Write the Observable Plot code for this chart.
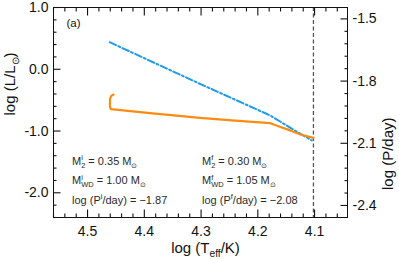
<!DOCTYPE html>
<html><head><meta charset="utf-8">
<script src="https://cdn.jsdelivr.net/npm/d3@7"></script>
<script src="https://cdn.jsdelivr.net/npm/@observablehq/plot@0.6"></script>
<style>body{margin:0;background:#fff;}</style>
</head><body><div id="chart"></div>
<script>
// ---- data ----
const orangeTeff = [4.454, 4.458, 4.4605, 4.4605, 4.459, 4.39, 4.302, 4.24, 4.178, 4.160, 4.143, 4.125, 4.102];
const orangeLogL = [-0.41, -0.43, -0.48, -0.60, -0.645, -0.71, -0.786, -0.83, -0.873, -0.935, -0.99, -1.056, -1.11];
const blueTeff = [4.461, 4.302, 4.178, 4.135, 4.105];
const blueLogL = [0.438, -0.236, -0.749, -0.99, -1.153];
const limitTeff = [4.102];
const xMajorTicks = [4.5, 4.4, 4.3, 4.2, 4.1];
const yMajorTicks = [1.0, 0.0, -1.0, -2.0];
const pMajorTicks = [-1.5, -1.8, -2.1, -2.4];
const xDomain = [4.56, 4.042];
const yDomain = [-2.4, 1.0];
const pDomain = [-2.458, -1.445];
const annotLeft = ["M_{2}^{i} = 0.35 M_{⊙}", "M^{i}_{WD} = 1.00 M_{⊙}", "log (P^{i}/day) = −1.87"];
const annotRight = ["M_{2}^{f} = 0.30 M_{⊙}", "M^{f}_{WD} = 1.05 M_{⊙}", "log (P^{f}/day) = −2.08"];
const panelLabel = ["(a)"];
const xTitle = ["log (T_{eff}/K)"];
const yTitle = ["log (L/L_{⊙})"];
const pTitle = ["log (P/day)"];

// ---- layout ----
const W = 399, H = 259, ML = 53, MR = 52, MT = 7, MB = 42;

// ---- derived ----
const orange = orangeTeff.map((t, i) => ({t, l: orangeLogL[i]}));
const blue = blueTeff.map((t, i) => ({t, l: blueLogL[i]}));
const kP = (yDomain[1] - yDomain[0]) / (pDomain[1] - pDomain[0]);
const pToL = p => yDomain[1] + (p - pDomain[1]) * kP;
const lToP = l => pDomain[1] + (l - yDomain[1]) / kP;
const inX = v => v <= Math.max(...xDomain) + 1e-9 && v >= Math.min(...xDomain) - 1e-9;
const xMinorTicks = d3.range(202, 229).filter(i => i % 5 !== 0).map(i => i / 50).filter(inX);
const yMinorTicks = d3.range(-12, 6).filter(i => i % 5 !== 0).map(i => i / 5);
const pMinorTicks = d3.range(-41, -23).filter(i => i % 5 !== 0).map(i => i * 0.06)
  .filter(p => p >= pDomain[0] - 1e-9 && p <= pDomain[1] + 1e-9);

const txt = "#111";
const MAJ = 7.5, MIN = 3.5;
const none = () => "";
// inward ticks: outward axis ticks shifted back inside the frame
function ticksX(values, side, len) {
  return Plot.axisX(values, {anchor: side, tickSize: len, dy: side === "bottom" ? -len : len,
    tickFormat: none, label: null, strokeWidth: 1.1});
}
function ticksY(values, side, len) {
  return Plot.axisY(values, {anchor: side, tickSize: len, dx: side === "left" ? len : -len,
    tickFormat: none, label: null, strokeWidth: 1.1});
}
const annotMarks = [];
annotLeft.forEach((s, i) => annotMarks.push(Plot.text([s], {frameAnchor: "top-left", dx: 18.5, dy: 157.3 + i * 19.5, textAnchor: "start", lineAnchor: "bottom", fontSize: 11, fill: "#2a2a2a"})));
annotRight.forEach((s, i) => annotMarks.push(Plot.text([s], {frameAnchor: "top-left", dx: 148.5, dy: 157.3 + i * 19.5, textAnchor: "start", lineAnchor: "bottom", fontSize: 11, fill: "#2a2a2a"})));

const chart = Plot.plot({
  width: W, height: H,
  marginLeft: ML, marginRight: MR, marginTop: MT, marginBottom: MB,
  x: {domain: xDomain},
  y: {domain: yDomain},
  style: {fontFamily: "'Liberation Sans', Arial, sans-serif", fontSize: "14px", color: txt, background: "#fff"},
  marks: [
    Plot.ruleX(limitTeff, {stroke: "#555", strokeWidth: 1.3, strokeDasharray: "4,2.5"}),
    Plot.line(blue, {x: "t", y: "l", stroke: "#1f9bea", strokeWidth: 2, strokeDasharray: "7,2.5,2,2.5"}),
    Plot.line(orange, {x: "t", y: "l", stroke: "#fb8c12", strokeWidth: 2.2, strokeLinejoin: "round"}),
    Plot.frame({stroke: "currentColor", strokeWidth: 1}),
    // tick marks (inward)
    ticksX(xMajorTicks, "bottom", MAJ), ticksX(xMinorTicks, "bottom", MIN),
    ticksX(xMajorTicks, "top", MAJ), ticksX(xMinorTicks, "top", MIN),
    ticksY(yMajorTicks, "left", MAJ), ticksY(yMinorTicks, "left", MIN),
    ticksY(pMajorTicks.map(pToL), "right", MAJ), ticksY(pMinorTicks.map(pToL), "right", MIN),
    // tick labels
    Plot.axisX(xMajorTicks, {anchor: "bottom", tickSize: 0, tickPadding: 9, tickFormat: d => d.toFixed(1), label: null, fontSize: 14}),
    Plot.axisY(yMajorTicks, {anchor: "left", tickSize: 0, tickPadding: 5, tickFormat: d => d.toFixed(1), label: null, fontSize: 14}),
    Plot.axisY(pMajorTicks.map(pToL), {anchor: "right", tickSize: 0, tickPadding: 5, tickFormat: d => lToP(d).toFixed(1), label: null, fontSize: 14}),
    // titles
    Plot.text(xTitle, {frameAnchor: "bottom", dx: 5, dy: 35, lineAnchor: "bottom", fontSize: 15, fill: txt}),
    Plot.text(yTitle, {frameAnchor: "left", rotate: -90, dx: -39, dy: 3, lineAnchor: "bottom", fontSize: 15, fill: txt}),
    Plot.text(pTitle, {frameAnchor: "right", rotate: -90, dx: 45, dy: 5, lineAnchor: "bottom", fontSize: 15, fill: txt}),
    Plot.text(panelLabel, {frameAnchor: "top-left", dx: 13, dy: 19.7, textAnchor: "start", lineAnchor: "bottom", fontSize: 11.5, fill: txt}),
    ...annotMarks
  ]
});
document.getElementById("chart").appendChild(chart);

// ---- rich text (sub/superscripts) ----
function richify(el) {
  const src = el.textContent;
  if (!/[_^]\{/.test(src)) return;
  const base = parseFloat(getComputedStyle(el).fontSize) || 11;
  const segs = [];
  const re = /([_^])\{([^}]*)\}/g;
  let last = 0, m;
  while ((m = re.exec(src))) {
    if (m.index > last) segs.push({t: "n", s: src.slice(last, m.index)});
    segs.push({t: m[1] === "_" ? "sub" : "sup", s: m[2]});
    last = re.lastIndex;
  }
  if (last < src.length) segs.push({t: "n", s: src.slice(last)});
  el.textContent = "";
  const NS = "http://www.w3.org/2000/svg";
  let cur = 0, prev = null, pending = 0;
  for (const seg of segs) {
    const ts = document.createElementNS(NS, "tspan");
    ts.textContent = seg.s;
    const target = seg.t === "sub" ? base * 0.27 : seg.t === "sup" ? -base * 0.4 : 0;
    if (target - cur) ts.setAttribute("dy", (target - cur).toFixed(2));
    cur = target;
    if (seg.t !== "n") ts.setAttribute("font-size", (base * 0.68).toFixed(2));
    let dx = pending; pending = 0;
    const stacked = seg.t !== "n" && prev && prev.t !== "n" && prev.t !== seg.t;
    if (stacked) dx -= prev.w;
    if (dx) ts.setAttribute("dx", dx.toFixed(2));
    el.appendChild(ts);
    const w = ts.getComputedTextLength();
    if (stacked && w < prev.w) pending = prev.w - w;
    prev = stacked ? {t: "n", w: 0} : {t: seg.t, w};
  }
}
chart.querySelectorAll("text").forEach(richify);
</script>
</body></html>
